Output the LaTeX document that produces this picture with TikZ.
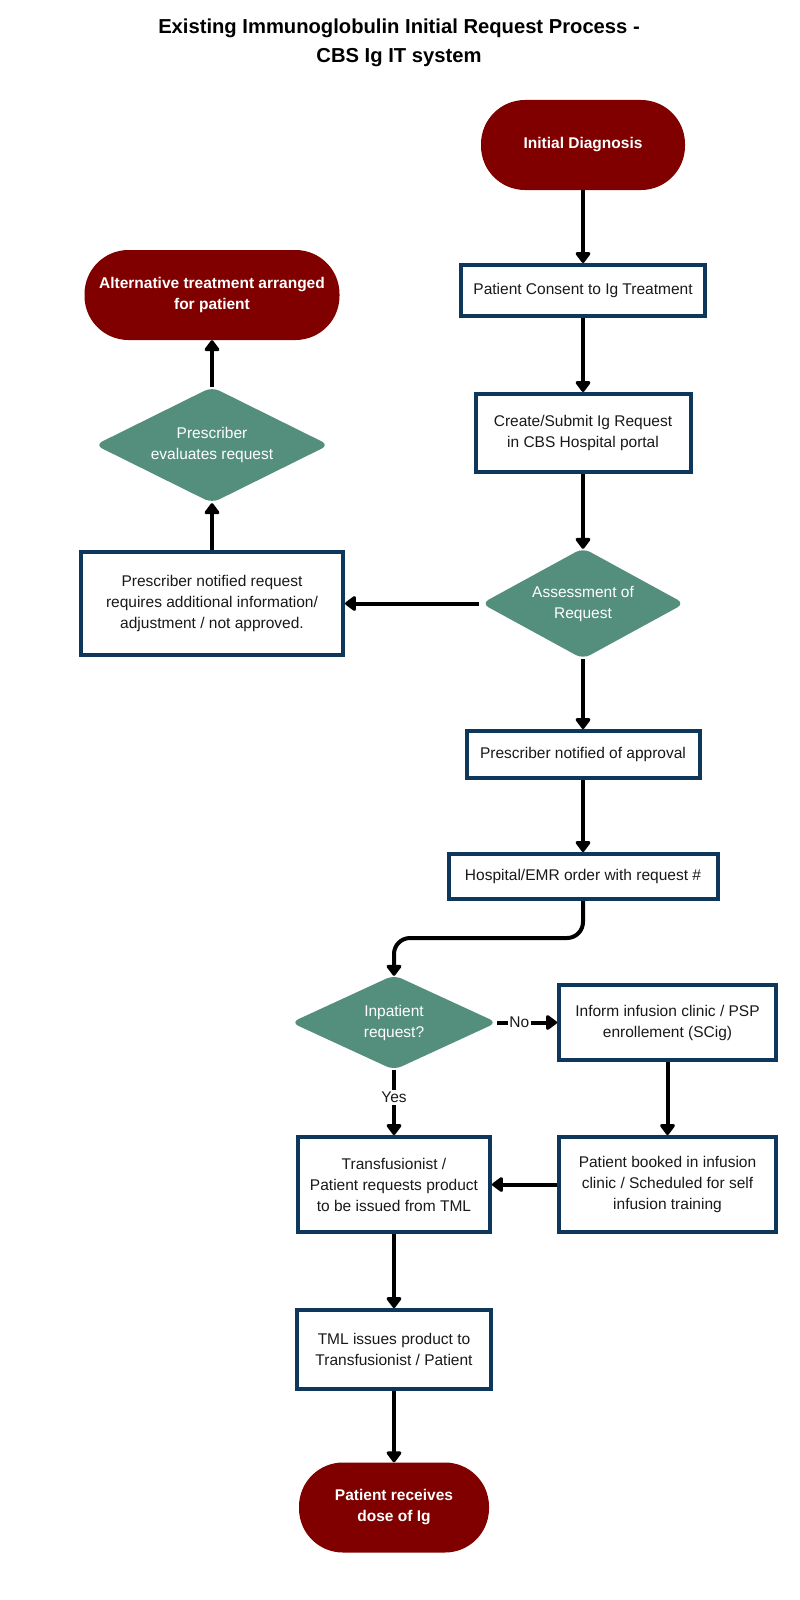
\documentclass[tikz,border=0pt]{standalone}
\usepackage{fontspec}
\setmainfont{Liberation Sans}
\usetikzlibrary{shapes.geometric,arrows.meta}
\definecolor{termred}{RGB}{128,0,0}
\definecolor{dteal}{RGB}{84,143,125}
\definecolor{navy}{RGB}{14,55,92}
\definecolor{txt}{RGB}{25,25,25}
\begin{document}
\begin{tikzpicture}[x=1pt,y=-1pt,
 base/.style={align=center, font=\fontsize{15.5}{21}\selectfont, inner sep=0pt},
 titlestyle/.style={align=center, font=\fontsize{20.2}{28.5}\selectfont\bfseries, text=black, inner sep=0pt},
 terminal/.style={base, fill=termred, text=white, font=\fontsize{15.5}{21}\selectfont\bfseries, rounded corners=44pt},
 procbox/.style={base, draw=navy, line width=4pt, fill=white, text=txt},
 decision/.style={base, diamond, aspect=2, fill=dteal, text=white, rounded corners=8pt},
 conn/.style={line width=4pt, draw=black, -{Triangle[width=17pt,length=12pt,round]}},
 lbl/.style={fill=white, text=txt, font=\fontsize{15.5}{21}\selectfont, inner xsep=1.5pt, inner ysep=2.5pt}
]
\fill[white] (0,0) rectangle (800,1600);
\useasboundingbox (0,0) rectangle (800,1600);

\node[titlestyle] (title) at (399,43) {Existing Immunoglobulin Initial Request Process -\\CBS Ig IT system};

\node[terminal, minimum width=204pt, minimum height=90pt] (init) at (583,145) {Initial Diagnosis};
\node[procbox, minimum width=244pt, minimum height=51pt] (consent) at (583,290.5) {Patient Consent to Ig Treatment};
\node[procbox, minimum width=215pt, minimum height=78pt] (create) at (583,433) {Create/Submit Ig Request\\in CBS Hospital portal};
\node[decision, minimum width=203pt, minimum height=111pt] (assess) at (583,603.5) {Assessment of\\Request};
\node[procbox, minimum width=262pt, minimum height=103pt] (notreq) at (212,603.5) {Prescriber notified request\\requires additional information/\\adjustment / not approved.};
\node[decision, minimum width=234pt, minimum height=116pt] (eval) at (212,445) {Prescriber\\evaluates request};
\node[terminal, minimum width=255pt, minimum height=90pt] (alt) at (212,295) {Alternative treatment arranged\\for patient};
\node[procbox, minimum width=233pt, minimum height=47pt] (approval) at (583,754.5) {Prescriber notified of approval};
\node[procbox, minimum width=269pt, minimum height=45pt] (emr) at (583,876.5) {Hospital/EMR order with request \#};
\node[decision, minimum width=206pt, minimum height=95pt] (inpat) at (394,1022.5) {Inpatient\\request?};
\node[procbox, minimum width=217pt, minimum height=75pt] (inform) at (667.5,1022.5) {Inform infusion clinic / PSP\\enrollement (SCig)};
\node[procbox, minimum width=217pt, minimum height=95pt] (booked) at (667.5,1184.5) {Patient booked in infusion\\clinic / Scheduled for self\\infusion training};
\node[procbox, minimum width=192pt, minimum height=95pt] (transf) at (394,1184.5) {Transfusionist /\\Patient requests product\\to be issued from TML};
\node[procbox, minimum width=194pt, minimum height=79pt] (tml) at (394,1349.5) {TML issues product to\\Transfusionist / Patient};
\node[terminal, minimum width=190pt, minimum height=90pt, rounded corners=44pt] (receive) at (394,1507.5) {Patient receives\\dose of Ig};

\coordinate (bend) at (394,938);

\draw[conn] (init) -- (consent);
\draw[conn] (consent) -- (create);
\draw[conn, shorten >=-1pt] (create) -- (assess);
\draw[conn, shorten <=2pt] (assess.west) -- (notreq.east);
\draw[conn] (notreq) -- (eval);
\draw[conn] (eval) -- (alt);
\draw[conn] (assess) -- (approval);
\draw[conn] (approval) -- (emr);
\draw[conn, rounded corners=16pt, shorten >=-1pt] (emr.south) |- (bend) -- (inpat.north);
\draw[conn] (inpat.east) -- node[lbl, pos=0.37] {No} (inform.west);
\draw[conn] (inpat.south) -- node[lbl, pos=0.42] {Yes} (transf.north);
\draw[conn] (inform) -- (booked);
\draw[conn] (booked) -- (transf);
\draw[conn] (transf) -- (tml);
\draw[conn] (tml) -- (receive);
\end{tikzpicture}
\end{document}
